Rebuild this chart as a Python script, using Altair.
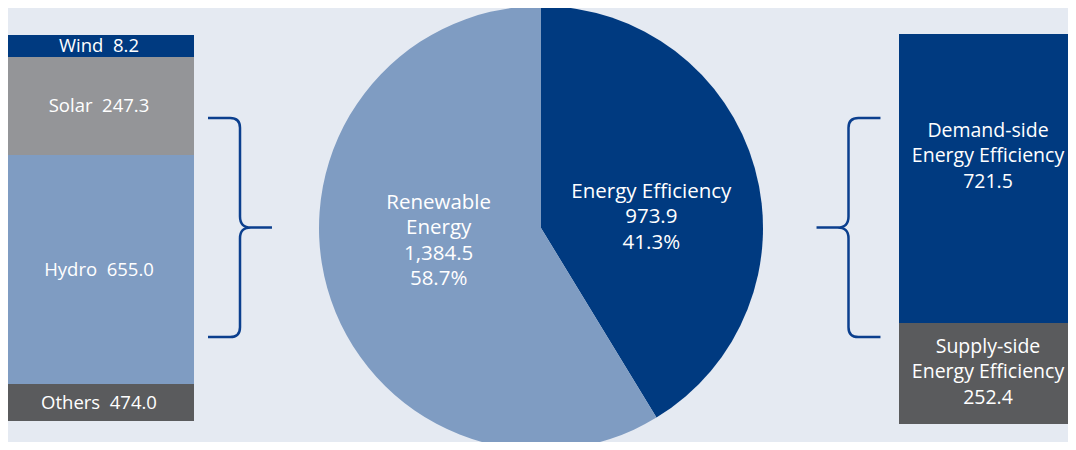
import math
import altair as alt
import pandas as pd

# ---------------- data ----------------
L_CATS = ["Others", "Hydro", "Solar", "Wind"]          # bottom -> top
L_VALS = [474.0, 655.0, 247.3, 8.2]

P_CATS = ["Energy Efficiency", "Renewable Energy"]     # clockwise from 12 o'clock
P_LINES = [["Energy Efficiency"], ["Renewable", "Energy"]]
P_VALS = [973.9, 1384.5]

R_CATS = ["Supply-side", "Demand-side"]                 # bottom -> top
R_LINES = [["Supply-side", "Energy Efficiency"], ["Demand-side", "Energy Efficiency"]]
R_VALS = [252.4, 721.5]

# ---------------- styles ----------------
FONT = "Open Sans"
BG = "#e5eaf2"
DARK_BLUE = "#003a80"
LIGHT_BLUE = "#7f9cc2"
GRAY = "#949598"
DARK_GRAY = "#5a5b5d"
BRACE = "#0b3f8e"
W, H = 1060, 434
CX, CY = 533, 220          # pie centre in chart pixels
PIE_FS = 20.5              # font size of pie labels
RIGHT_FS = 19.5            # font size of right labels
SMALL = 18.5               # font size of left labels
NBSP2 = " \u00a0"

color_scale = alt.Scale(
    domain=L_CATS + P_CATS + R_CATS,
    range=[DARK_GRAY, LIGHT_BLUE, GRAY, DARK_BLUE,
           DARK_BLUE, LIGHT_BLUE,
           DARK_GRAY, DARK_BLUE],
)

# ---------------- left stacked bar ----------------
ldf = pd.DataFrame({"cat": L_CATS, "value": L_VALS})
ldf["y1"] = ldf["value"].cumsum()
ldf["y0"] = ldf["y1"] - ldf["value"]
ldf["mid"] = (ldf["y0"] + ldf["y1"]) / 2
ldf["col"] = "left"
ldf["label"] = [f"{c}{NBSP2}{v:.1f}" for c, v in zip(L_CATS, L_VALS)]

l_domain = [0.0] + [float(v) for v in ldf["y1"]]
ly = alt.Scale(domain=l_domain, range=[413, 376, 147, 49, 27], zero=False, nice=False)
lx = alt.Scale(type="band", domain=["left"], range=[0, 186], paddingInner=0, paddingOuter=0)

left_bars = alt.Chart(ldf).mark_bar(cornerRadius=0).encode(
    x=alt.X("col:N", scale=lx, axis=None),
    y=alt.Y("y0:Q", scale=ly, axis=None),
    y2="y1:Q",
    color=alt.Color("cat:N", scale=color_scale, legend=None),
)
left_text = alt.Chart(ldf).mark_text(
    font=FONT, fontSize=SMALL, color="white", align="center", baseline="middle", dx=-2
).encode(
    x=alt.X("col:N", scale=lx, axis=None, bandPosition=0.5),
    y=alt.Y("mid:Q", scale=ly, axis=None),
    text="label:N",
)
left = alt.layer(left_bars, left_text)

# ---------------- pie ----------------
total = sum(P_VALS)
pdf = pd.DataFrame({"cat": P_CATS, "value": P_VALS})
pdf["p1"] = pdf["value"].cumsum()
pdf["p0"] = pdf["p1"] - pdf["value"]
pdf["mid"] = (pdf["p0"] + pdf["p1"]) / 2
pdf["label"] = ["\n".join(lines + [f"{v:,.1f}", f"{v / total * 100:.1f}%"])
                for lines, v in zip(P_LINES, P_VALS)]

tscale = alt.Scale(domain=[0, total], range=[0, 2 * math.pi], zero=False, nice=False)

pie_arc = alt.Chart(pdf).mark_arc(radius=222).encode(
    theta=alt.Theta("p0:Q", scale=tscale, stack=False),
    theta2="p1:Q",
    color=alt.Color("cat:N", scale=color_scale, legend=None),
    x=alt.value(CX), y=alt.value(CY),
)
P_LH = 25.5
pie_texts = []
for cat, lines in zip(P_CATS, P_LINES):
    n = len(lines) + 2
    pie_texts.append(
        alt.Chart(pdf).transform_filter(alt.datum.cat == cat).mark_text(
            radius=107, thetaOffset=0.162, font=FONT, fontSize=PIE_FS, color="white",
            lineBreak="\n", lineHeight=P_LH, align="center", baseline="middle",
            dx=4, dy=1 - (n - 1) * P_LH / 2,
        ).encode(
            theta=alt.Theta("mid:Q", scale=tscale, stack=False),
            text="label:N",
            x=alt.value(CX), y=alt.value(CY),
        )
    )
pie = alt.layer(pie_arc, *pie_texts)

# ---------------- right stacked bar ----------------
rdf = pd.DataFrame({"cat": R_CATS, "value": R_VALS})
rdf["y1"] = rdf["value"].cumsum()
rdf["y0"] = rdf["y1"] - rdf["value"]
rdf["mid"] = (rdf["y0"] + rdf["y1"]) / 2
rdf["col"] = "right"
rdf["label"] = ["\n".join(lines + [f"{v:.1f}"]) for lines, v in zip(R_LINES, R_VALS)]

ry = alt.Scale(domain=[0.0, float(sum(R_VALS))], range=[416, 26], zero=False, nice=False)
rx = alt.Scale(type="band", domain=["right"], range=[891, 1069], paddingInner=0, paddingOuter=0)

right_bars = alt.Chart(rdf).mark_bar(cornerRadius=0).encode(
    x=alt.X("col:N", scale=rx, axis=None),
    y=alt.Y("y0:Q", scale=ry, axis=None),
    y2="y1:Q",
    color=alt.Color("cat:N", scale=color_scale, legend=None),
)
R_LH = 25.5
right_texts = []
for cat, lines, shift in zip(R_CATS, R_LINES, [-1, -22]):
    n = len(lines) + 1
    right_texts.append(
        alt.Chart(rdf).transform_filter(alt.datum.cat == cat).mark_text(
            font=FONT, fontSize=RIGHT_FS, color="white", lineBreak="\n", lineHeight=R_LH,
            align="center", baseline="middle", dy=shift - (n - 1) * R_LH / 2,
        ).encode(
            x=alt.X("col:N", scale=rx, axis=None, bandPosition=0.5),
            y=alt.Y("mid:Q", scale=ry, axis=None),
            text="label:N",
        )
    )
right = alt.layer(right_bars, *right_texts)

# ---------------- braces ----------------
LEFT_BRACE = ("M -0.292 -1 L -0.09 -1 Q 0 -1 0 -0.91 L 0 -0.1 Q 0 0 0.1 0 L 0.292 0 "
              "M 0.1 0 Q 0 0 0 0.1 L 0 0.91 Q 0 1 -0.09 1 L -0.292 1")
RIGHT_BRACE = ("M 0.292 -1 L 0.09 -1 Q 0 -1 0 -0.91 L 0 -0.1 Q 0 0 -0.1 0 L -0.292 0 "
               "M -0.1 0 Q 0 0 0 0.1 L 0 0.91 Q 0 1 0.09 1 L 0.292 1")
brace_df = pd.DataFrame({"b": [0]})
brace_size = 219 ** 2
left_brace = alt.Chart(brace_df).mark_point(
    shape=LEFT_BRACE, filled=False, stroke=BRACE, strokeWidth=2.5, opacity=1,
    size=brace_size,
).encode(x=alt.value(232), y=alt.value(219.5))
right_brace = alt.Chart(brace_df).mark_point(
    shape=RIGHT_BRACE, filled=False, stroke=BRACE, strokeWidth=2.5, opacity=1,
    size=brace_size,
).encode(x=alt.value(840.5), y=alt.value(219.5))

chart = alt.layer(pie, left, right, left_brace, right_brace).resolve_scale(
    x="independent", y="independent"
).properties(
    width=W, height=H,
    autosize=alt.AutoSizeParams(type="none"),
    padding=0,
    background=BG,
).configure_view(stroke=None)

chart.save("out.html", embed_options={"renderer": "svg", "actions": False})
